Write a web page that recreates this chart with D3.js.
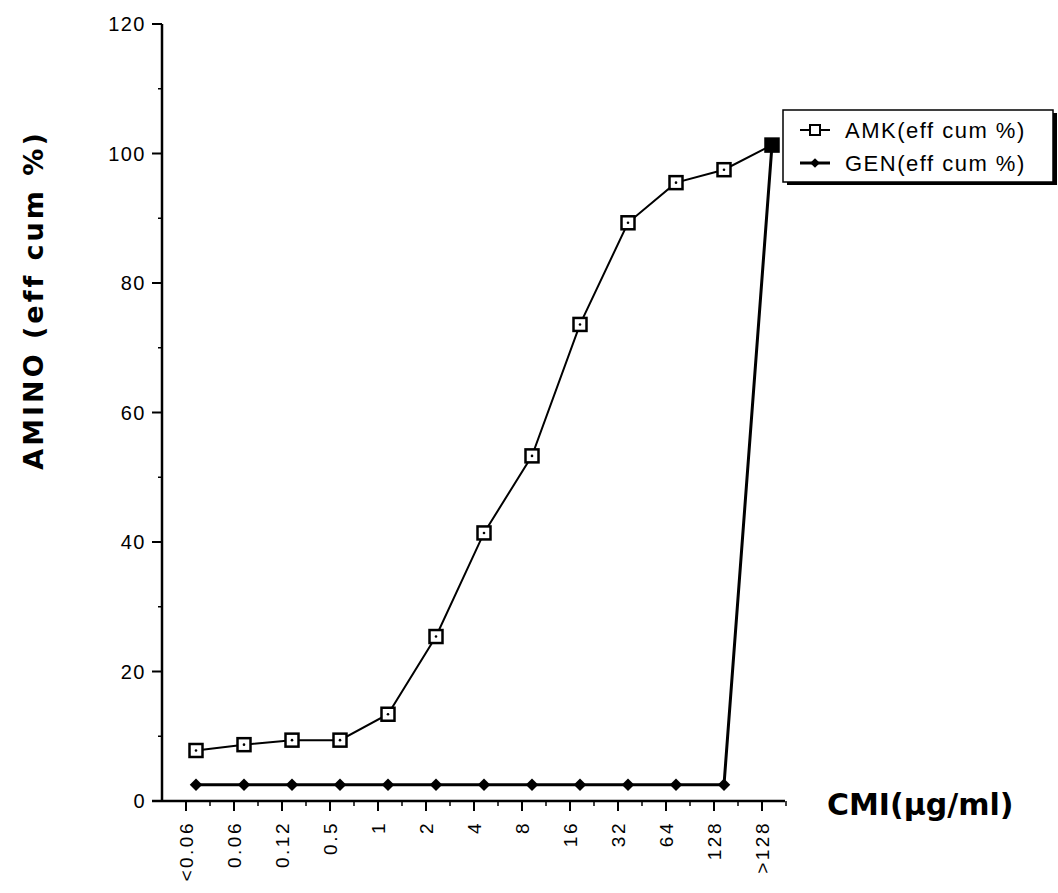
<!DOCTYPE html>
<html>
<head>
    <meta charset="utf-8">
    <script src="https://d3js.org/d3.v7.min.js" charset="utf-8"></script>
    <title>AMINO (eff cum %) vs CMI</title>
</head>
<body>
    <style>
        html, body, #chart {
            margin: 0px;
            padding: 0px;
            background: #fff;
        }
    </style>
    <div id="chart"></div>

    <script>
        // values
        var categories = ["<0.06", "0.06", "0.12", "0.5", "1", "2", "4", "8", "16", "32", "64", "128", ">128"];
        var amkValues = [7.8, 8.7, 9.4, 9.4, 13.4, 25.4, 41.4, 53.3, 73.6, 89.3, 95.5, 97.5, 101.3];
        var genValues = [2.5, 2.5, 2.5, 2.5, 2.5, 2.5, 2.5, 2.5, 2.5, 2.5, 2.5, 2.5, 101.3];
        var yTicks = [0, 20, 40, 60, 80, 100, 120];
        var yMinorTicks = [10, 30, 50, 70, 90, 110];
        var seriesNames = ["AMK(eff cum %)", "GEN(eff cum %)"];

        var width = 1058,
            height = 893;

        var svg = d3.select("#chart").append("svg")
            .attr("width", width)
            .attr("height", height)
            .style("display", "block");

        svg.append("rect").attr("width", width).attr("height", height).attr("fill", "#fff");

        var y = d3.scaleLinear().domain([0, 120]).range([801, 24]);

        // points sit a little right of the category ticks, like the original
        var x = d3.scalePoint().domain(categories).range([196, 772]);
        var tickShift = -10;
        var step = x.step();

        var ink = "#000";
        var labelFont = "Liberation Sans, Arial, sans-serif";
        var titleFont = "DejaVu Sans, sans-serif";

        // y axis
        var yAxis = svg.append("g");
        yAxis.append("line")
            .attr("x1", 162).attr("x2", 162)
            .attr("y1", y(120)).attr("y2", y(0) + 1)
            .attr("stroke", ink).attr("stroke-width", 2.5);

        yAxis.selectAll(".major")
            .data(yTicks)
            .enter().append("line")
            .attr("x1", 152).attr("x2", 162)
            .attr("y1", y).attr("y2", y)
            .attr("stroke", ink).attr("stroke-width", 2);

        yAxis.selectAll(".minor")
            .data(yMinorTicks)
            .enter().append("line")
            .attr("x1", 158).attr("x2", 162)
            .attr("y1", y).attr("y2", y)
            .attr("stroke", ink).attr("stroke-width", 1.5);

        yAxis.selectAll("text")
            .data(yTicks)
            .enter().append("text")
            .attr("x", 146)
            .attr("y", y)
            .attr("dy", "0.35em")
            .attr("text-anchor", "end")
            .attr("font-family", labelFont)
            .attr("font-size", 20)
            .attr("letter-spacing", 1.5)
            .text(function (d) { return d; });

        // x axis
        var xAxis = svg.append("g");
        xAxis.append("line")
            .attr("x1", 152).attr("x2", 785)
            .attr("y1", y(0)).attr("y2", y(0))
            .attr("stroke", ink).attr("stroke-width", 2.5);

        xAxis.selectAll(".major")
            .data(categories)
            .enter().append("line")
            .attr("x1", function (d) { return x(d) + tickShift; })
            .attr("x2", function (d) { return x(d) + tickShift; })
            .attr("y1", y(0)).attr("y2", y(0) + 10)
            .attr("stroke", ink).attr("stroke-width", 2);

        xAxis.selectAll(".minor")
            .data(categories)
            .enter().append("line")
            .attr("x1", function (d) { return x(d) + tickShift + step / 2; })
            .attr("x2", function (d) { return x(d) + tickShift + step / 2; })
            .attr("y1", y(0)).attr("y2", y(0) + 5)
            .attr("stroke", ink).attr("stroke-width", 1.5);

        xAxis.selectAll("text")
            .data(categories)
            .enter().append("text")
            .attr("transform", function (d) {
                return "translate(" + (x(d) + tickShift) + "," + (y(0) + 20) + ")rotate(-90)";
            })
            .attr("dy", "0.35em")
            .attr("text-anchor", "end")
            .attr("font-family", labelFont)
            .attr("font-size", 19)
            .attr("letter-spacing", 2.5)
            .text(function (d) { return d; });

        // axis titles
        svg.append("text")
            .attr("transform", "translate(43,300)rotate(-90)")
            .attr("text-anchor", "middle")
            .attr("font-family", titleFont)
            .attr("font-weight", "bold")
            .attr("font-size", 27)
            .attr("letter-spacing", 3)
            .text("AMINO (eff cum %)");

        svg.append("text")
            .attr("x", 827)
            .attr("y", 815)
            .attr("font-family", titleFont)
            .attr("font-weight", "bold")
            .attr("font-size", 30)
            .text("CMI(µg/ml)");

        // series lines
        var line = d3.line()
            .x(function (d, i) { return x(categories[i]); })
            .y(function (d) { return y(d); });

        svg.append("path")
            .datum(amkValues)
            .attr("d", line)
            .attr("fill", "none")
            .attr("stroke", ink)
            .attr("stroke-width", 2);

        svg.append("path")
            .datum(genValues)
            .attr("d", line)
            .attr("fill", "none")
            .attr("stroke", ink)
            .attr("stroke-width", 3);

        // GEN diamonds
        var diamond = d3.symbol().type(d3.symbolDiamond2).size(100);
        svg.append("g").selectAll("path")
            .data(genValues)
            .enter().append("path")
            .attr("transform", function (d, i) { return "translate(" + x(categories[i]) + "," + y(d) + ")"; })
            .attr("d", diamond)
            .attr("fill", ink);

        // AMK squares (fully inked where both series meet)
        var amk = svg.append("g").selectAll("g")
            .data(amkValues)
            .enter().append("g")
            .attr("transform", function (d, i) { return "translate(" + x(categories[i]) + "," + y(d) + ")"; });

        amk.append("rect")
            .attr("x", -6.5).attr("y", -6.5)
            .attr("width", 13).attr("height", 13)
            .attr("fill", function (d, i) { return d === genValues[i] ? ink : "#fff"; })
            .attr("stroke", ink)
            .attr("stroke-width", 2.5);

        amk.append("circle")
            .attr("r", 1.3)
            .attr("fill", ink);

        // legend
        var legend = svg.append("g").attr("transform", "translate(783,110)");
        legend.append("rect")
            .attr("x", 4).attr("y", 3)
            .attr("width", 270).attr("height", 72)
            .attr("fill", ink);
        legend.append("rect")
            .attr("width", 270).attr("height", 72)
            .attr("fill", "#fff")
            .attr("stroke", ink)
            .attr("stroke-width", 1.5);

        var item = legend.selectAll(".item")
            .data(seriesNames)
            .enter().append("g")
            .attr("transform", function (d, i) { return "translate(0," + (20 + i * 33) + ")"; });

        item.append("line")
            .attr("x1", 17).attr("x2", 47)
            .attr("stroke", ink)
            .attr("stroke-width", function (d, i) { return i === 0 ? 2 : 3; });

        item.filter(function (d, i) { return i === 0; }).append("rect")
            .attr("x", 27).attr("y", -5)
            .attr("width", 10).attr("height", 10)
            .attr("fill", "#fff")
            .attr("stroke", ink)
            .attr("stroke-width", 2);

        item.filter(function (d, i) { return i === 1; }).append("path")
            .attr("transform", "translate(32,0)")
            .attr("d", d3.symbol().type(d3.symbolDiamond2).size(60))
            .attr("fill", ink);

        item.append("text")
            .attr("x", 62)
            .attr("dy", "0.35em")
            .attr("font-family", labelFont)
            .attr("font-size", 22)
            .attr("letter-spacing", 1.5)
            .text(function (d) { return d; });
    </script>
</body>
</html>
